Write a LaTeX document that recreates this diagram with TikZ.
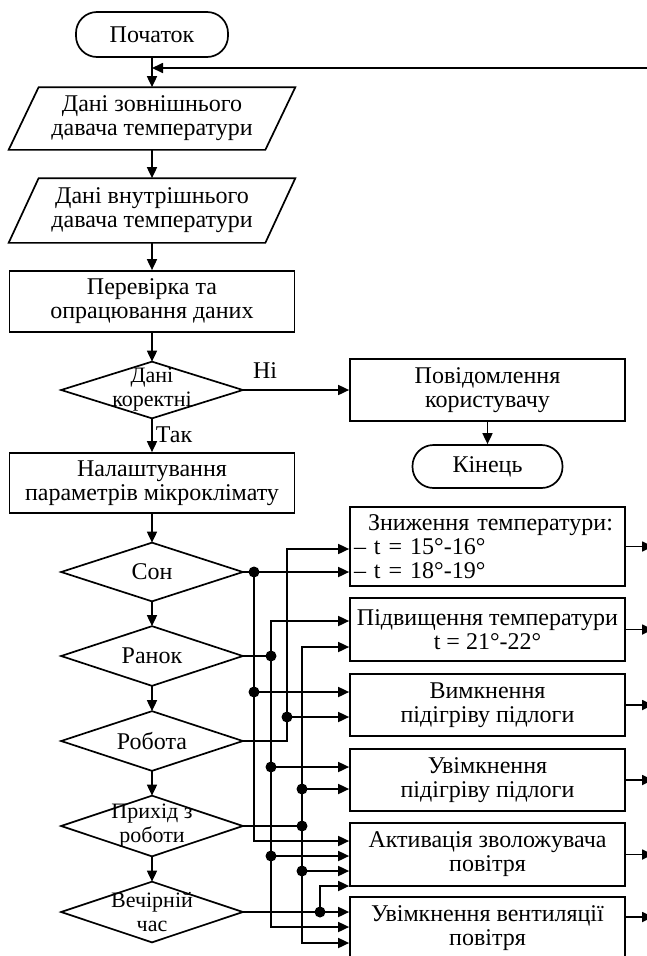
\documentclass[tikz,border=0pt]{standalone}
\usepackage{fontspec}
\setmainfont{Liberation Serif}
\usetikzlibrary{arrows.meta}
\newcommand\dsm{\fontsize{22}{21}\selectfont}
\begin{document}
\begin{tikzpicture}[x=1pt,y=-1pt,line width=1.7pt,
  every node/.style={font=\fontsize{24}{24}\selectfont, inner sep=0pt, align=center},
  arr/.style={-{Triangle[length=11pt,width=10pt]}},
  term/.style={draw, rectangle, rounded corners=21pt},
  shp/.style={rectangle, inner sep=0pt},
  lbox/.style={draw, rectangle, minimum width=285pt},
  rbox/.style={draw, rectangle, minimum width=275pt}
]
\useasboundingbox (0,0) rectangle (646,956);
\fill[white] (0,0) rectangle (646,956);

% left column
\node[term, minimum width=152pt, minimum height=45pt] (start) at (152,34.5) {Початок};
\node[shp, minimum width=255pt, minimum height=61pt] (p1) at (152,118.5) {Дані зовнішнього\\давача температури};
\node[shp, minimum width=255pt, minimum height=63pt] (p2) at (152,210.5) {Дані внутрішнього\\давача температури};
\node[lbox, minimum height=61pt] (chk) at (152,301.5) {Перевірка та\\опрацювання даних};
\node[shp, minimum width=180pt, minimum height=55pt] (dec1) at (152,390) {\dsm Дані\\\dsm коректні};
\node[lbox, minimum height=60pt] (setup) at (152,483) {Налаштування\\параметрів мікроклімату};
\node[shp, minimum width=180pt, minimum height=57pt] (son) at (152,572) {Сон};
\node[shp, minimum width=180pt, minimum height=58pt] (ranok) at (152,656) {Ранок};
\node[shp, minimum width=180pt, minimum height=58pt] (robota) at (152,741) {Робота};
\node[shp, minimum width=180pt, minimum height=59pt] (pryhid) at (152,826) {\dsm Прихід з\\\dsm роботи};
\node[shp, minimum width=180pt, minimum height=59pt] (vechir) at (152,912) {\dsm Вечірній\\\dsm час};

% parallelograms
\foreach \p in {p1,p2}
  \draw ([xshift=15pt]\p.north west) -- ([xshift=15pt]\p.north east) -- ([xshift=-15pt]\p.south east) -- ([xshift=-15pt]\p.south west) -- cycle;
% diamonds
\foreach \d in {dec1,son,ranok,robota,pryhid,vechir}
  \draw (\d.north) -- (\d.east) -- (\d.south) -- (\d.west) -- cycle;

% right column
\node[rbox, minimum height=62pt] (msg) at (487.5,390) {Повідомлення\\користувачу};
\node[term, minimum width=150pt, minimum height=43pt] (kin) at (487.5,466.5) {Кінець};
\node[rbox, minimum height=79pt, text width=267pt, align=left] (zn) at (487.5,546.5) {\hspace*{14pt}Зниження температури:\\– t = 15°-16°\\– t = 18°-19°};
\node[rbox, minimum height=63pt] (pv) at (487.5,629.5) {Підвищення температури\\t = 21°-22°};
\node[rbox, minimum height=62pt] (vm) at (487.5,705) {Вимкнення\\підігріву підлоги};
\node[rbox, minimum height=62pt] (uv) at (487.5,780) {Увімкнення\\підігріву підлоги};
\node[rbox, minimum height=63pt] (ak) at (487.5,854.5) {Активація зволожувача\\повітря};
\node[rbox, minimum height=63pt] (ve) at (487.5,928.5) {Увімкнення вентиляції\\повітря};

% labels
\node (ni) at (265,371) {Ні};
\node (tak) at (174,435) {Так};

% main flow
\coordinate (fb) at (662,68);
\draw[arr] (start.south) -- (p1.north);
\draw[arr] (fb) -- (fb -| start.south);
\draw[arr] (p1.south) -- (p2.north);
\draw[arr] (p2.south) -- (chk.north);
\draw[arr] (chk.south) -- (dec1.north);
\draw[arr] (dec1.south) -- (setup.north);
\draw[arr] (dec1.east) -- (msg.west);
\draw[arr] (msg.south) -- (kin.north);
\draw[arr] (setup.south) -- (son.north);
\draw[arr] (son.south) -- (ranok.north);
\draw[arr] (ranok.south) -- (robota.north);
\draw[arr] (robota.south) -- (pryhid.north);
\draw[arr] (pryhid.south) -- (vechir.north);

% outputs to the right edge
\coordinate (edge) at (653,0);
\foreach \b in {zn,pv,vm,uv,ak}
  \draw[arr] (\b.east) -- (\b.east -| edge);
\draw[arr] ([yshift=11.5pt]ve.east) -- ([yshift=11.5pt]ve.east -| edge);

% Son bus
\coordinate (s0) at (254,572);
\coordinate (s1) at (254,692);
\coordinate (s2) at (254,841);
\draw (son.east) -- (s0);
\draw[arr] (s0) -- (s0 -| zn.west);
\draw[arr] (s0) |- (s2 -| ak.west);
\draw[arr] (s1) -- (s1 -| vm.west);
\fill (s0) circle (5.5pt);
\fill (s1) circle (5.5pt);

% Robota bus
\coordinate (r1) at (287,717);
\coordinate (r2) at (287,549);
\draw[arr] (robota.east) -| (r2) -- (r2 -| zn.west);
\draw[arr] (r1) -- (r1 -| vm.west);
\fill (r1) circle (5.5pt);

% Ranok bus
\coordinate (k0) at (271,656);
\coordinate (ktop) at (271,621);
\coordinate (k1) at (271,767);
\coordinate (k2) at (271,856);
\coordinate (k3) at (271,927);
\draw (ranok.east) -- (k0);
\draw[arr] (k0) |- (ktop -| pv.west);
\draw[arr] (k0) |- (k3 -| ve.west);
\draw[arr] (k1) -- (k1 -| uv.west);
\draw[arr] (k2) -- (k2 -| ak.west);
\fill (k0) circle (5.5pt);
\fill (k1) circle (5.5pt);
\fill (k2) circle (5.5pt);

% Pryhid bus
\coordinate (h0) at (302,826);
\coordinate (htop) at (302,647);
\coordinate (h1) at (302,789);
\coordinate (h2) at (302,871);
\coordinate (h3) at (302,943);
\draw (pryhid.east) -- (h0);
\draw[arr] (h0) |- (htop -| pv.west);
\draw[arr] (h0) |- (h3 -| ve.west);
\draw[arr] (h1) -- (h1 -| uv.west);
\draw[arr] (h2) -- (h2 -| ak.west);
\fill (h0) circle (5.5pt);
\fill (h1) circle (5.5pt);
\fill (h2) circle (5.5pt);

% Vechir bus
\coordinate (v0) at (320,912);
\coordinate (vtop) at (320,886);
\draw[arr] (vechir.east) -- (v0 -| ve.west);
\draw[arr] (v0) |- (vtop -| ak.west);
\fill (v0) circle (5.5pt);
\end{tikzpicture}
\end{document}
